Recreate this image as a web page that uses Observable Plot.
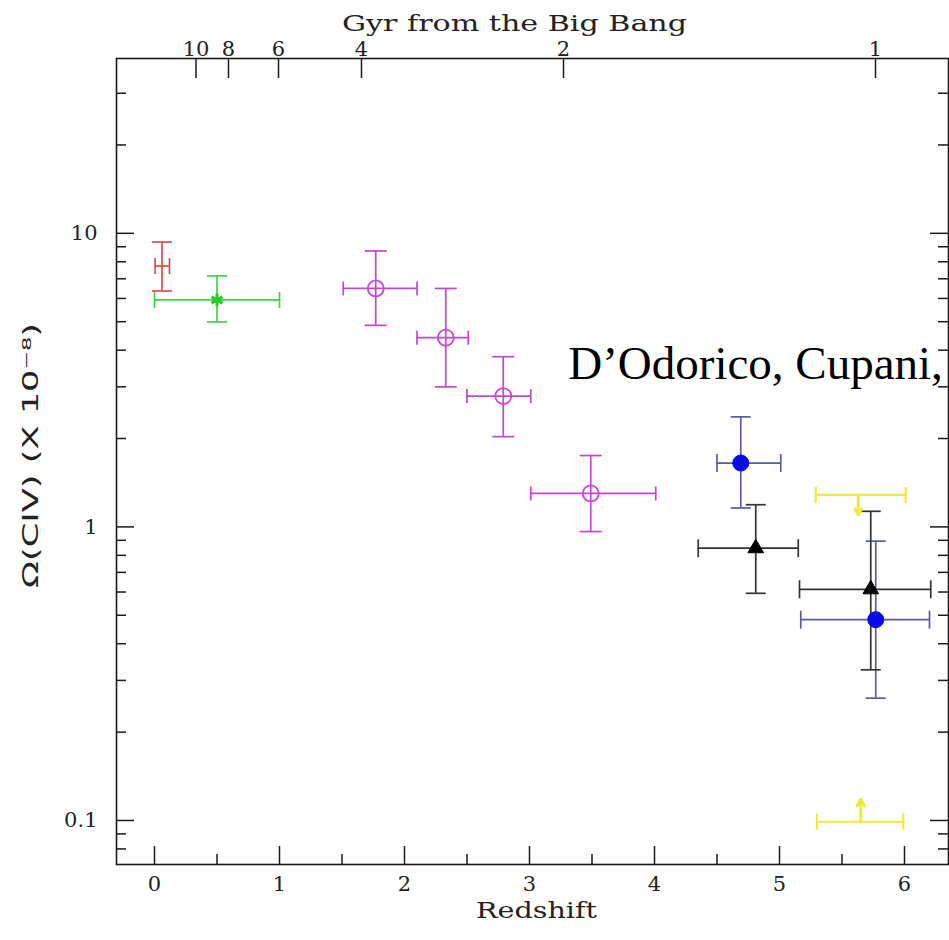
<!DOCTYPE html>
<html><head><meta charset="utf-8">
<script src="https://cdn.jsdelivr.net/npm/d3@7"></script>
<script src="https://cdn.jsdelivr.net/npm/@observablehq/plot@0.6"></script>
<style>html,body{margin:0;padding:0;background:#fff;overflow:hidden}</style>
</head><body><div id="chart"></div>
<script>
// ---------- data ----------
const pointGroup   = ["red", "green", "magenta", "magenta", "magenta", "magenta", "blue", "blue", "black", "black"];
const pointZ       = [0.06, 0.50, 1.77, 2.33, 2.79, 3.49, 4.69, 5.77, 4.81, 5.73];
const pointZLo     = [0.005, 0.00, 1.51, 2.10, 2.50, 3.01, 4.50, 5.17, 4.35, 5.16];
const pointZHi     = [0.12, 1.00, 2.10, 2.51, 3.01, 4.01, 5.01, 6.20, 5.15, 6.21];
const pointOmega   = [7.74, 5.93, 6.49, 4.41, 2.79, 1.30, 1.65, 0.483, 0.846, 0.613];
const pointOmegaLo = [6.36, 4.99, 4.86, 3.00, 2.03, 0.964, 1.16, 0.261, 0.594, 0.326];
const pointOmegaHi = [9.34, 7.16, 8.71, 6.49, 3.80, 1.75, 2.37, 0.894, 1.19, 1.13];

// yellow limits (upper limit at ~1.3, lower limit at ~0.1)
const limitZ       = [5.63, 5.65];
const limitZLo     = [5.29, 5.30];
const limitZHi     = [6.01, 5.99];
const limitOmega   = [1.285, 0.099];
const limitTip     = [1.10, 0.118];

// axes
const xMajorTicks  = [0, 1, 2, 3, 4, 5, 6];
const xMinorTicks  = [0.5, 1.5, 2.5, 3.5, 4.5, 5.5];
const gyrTickLabels = ["10", "8", "6", "4", "2", "1"];
const gyrTickZ      = [0.332, 0.592, 0.992, 1.656, 3.272, 5.768];
const yMajorTicks  = [0.1, 1, 10];
const yTickLabels  = ["0.1", "1", "10"];
const yMinorTicks  = [0.08, 0.09, 0.2, 0.3, 0.4, 0.5, 0.6, 0.7, 0.8, 0.9, 2, 3, 4, 5, 6, 7, 8, 9, 20, 30];

const titleTop   = "Gyr from the Big Bang";
const xLabel     = "Redshift";
const yLabel     = "Ω(CIV) (X 10⁻⁸)";
const annotation = "D’Odorico, Cupani,";
const annotationZ = 3.31, annotationOmega = 3.59;

// ---------- styles ----------
const W = 949, H = 940, mL = 116, mR = 1, mT = 58, mB = 76;
const innerW = W - mL - mR, innerH = H - mT - mB;
const style = {
  red:     {bar: "#d65050", capV: 10, capH: 8},
  green:   {bar: "#44d044", capV: 10, capH: 8},
  magenta: {bar: "#c048d0", capV: 11, capH: 7},
  blue:    {bar: "#5a5aa8", capV: 10, capH: 9},
  black:   {bar: "#333333", capV: 10, capH: 9}
};
const hcap = {draw(ctx, size) { const r = Math.sqrt(size / Math.PI); ctx.moveTo(-r, 0); ctx.lineTo(r, 0); }};
const vcap = {draw(ctx, size) { const r = Math.sqrt(size / Math.PI); ctx.moveTo(0, -r); ctx.lineTo(0, r); }};

const points = pointZ.map((z, i) => ({
  group: pointGroup[i], z, zlo: pointZLo[i], zhi: pointZHi[i],
  omega: pointOmega[i], lo: pointOmegaLo[i], hi: pointOmegaHi[i]
}));
const limits = limitZ.map((z, i) => ({z, zlo: limitZLo[i], zhi: limitZHi[i], omega: limitOmega[i], tip: limitTip[i]}));

const marks = [];
// axis tick marks (inward)
const axisStroke = {stroke: "#1a1a1a", strokeWidth: 1.5};
marks.push(Plot.ruleX(xMajorTicks, {x: d => d, insetTop: innerH - 18, ...axisStroke}));
marks.push(Plot.ruleX(xMinorTicks, {x: d => d, insetTop: innerH - 10, ...axisStroke}));
marks.push(Plot.ruleX(gyrTickZ, {x: d => d, insetBottom: innerH - 20, ...axisStroke}));
marks.push(Plot.ruleY(yMajorTicks, {y: d => d, insetRight: innerW - 18, ...axisStroke}));
marks.push(Plot.ruleY(yMinorTicks, {y: d => d, insetRight: innerW - 10, ...axisStroke}));
marks.push(Plot.ruleY(yMajorTicks, {y: d => d, insetLeft: innerW - 18, ...axisStroke}));
marks.push(Plot.ruleY(yMinorTicks, {y: d => d, insetLeft: innerW - 10, ...axisStroke}));
marks.push(Plot.frame({stroke: "#1a1a1a", strokeWidth: 1.6}));

// tick labels & titles
const serif = "DejaVu Serif";
marks.push(Plot.text(xMajorTicks, {x: d => d, frameAnchor: "bottom", dy: 26, text: d => String(d), fontSize: 21, fontFamily: serif, fill: "#222"}));
marks.push(Plot.text(gyrTickLabels, {x: gyrTickZ, frameAnchor: "top", dy: -17, text: d => d, fontSize: 21, fontFamily: serif, fill: "#222"}));
marks.push(Plot.text(yMajorTicks, {y: d => d, frameAnchor: "left", dx: -19, textAnchor: "end", text: yTickLabels, fontSize: 21, fontFamily: serif, fill: "#222"}));
marks.push(Plot.text([titleTop], {frameAnchor: "top", dx: -18, dy: -43, text: d => d, fontSize: 22, fontFamily: serif, fill: "#222"}));
marks.push(Plot.text([xLabel], {frameAnchor: "bottom", dx: 4, dy: 53, text: d => d, fontSize: 22, fontFamily: serif, fill: "#222"}));
marks.push(Plot.text([yLabel], {frameAnchor: "left", textAnchor: "middle", dx: -85, dy: -6, rotate: -90, text: d => d, fontSize: 21, fontFamily: "DejaVu Sans", fill: "#222"}));

// data error bars, caps and markers
for (const g of Object.keys(style)) {
  const data = points.filter(d => d.group === g);
  const s = style[g];
  marks.push(Plot.ruleX(data, {x: "z", y1: "lo", y2: "hi", stroke: s.bar, strokeWidth: 1.7}));
  marks.push(Plot.ruleY(data, {y: "omega", x1: "zlo", x2: "zhi", stroke: s.bar, strokeWidth: 1.7}));
  for (const key of ["lo", "hi"]) marks.push(Plot.dot(data, {x: "z", y: key, symbol: hcap, r: s.capV, fill: "none", stroke: s.bar, strokeWidth: 1.7}));
  for (const key of ["zlo", "zhi"]) marks.push(Plot.dot(data, {x: key, y: "omega", symbol: vcap, r: s.capH, fill: "none", stroke: s.bar, strokeWidth: 1.7}));
}
marks.push(Plot.dot(points.filter(d => d.group === "green"), {x: "z", y: "omega", symbol: "asterisk", r: 6, stroke: "#22cc22", strokeWidth: 3}));
marks.push(Plot.dot(points.filter(d => d.group === "magenta"), {x: "z", y: "omega", r: 8, fill: "none", stroke: "#d040e0", strokeWidth: 1.8}));
marks.push(Plot.dot(points.filter(d => d.group === "blue"), {x: "z", y: "omega", r: 8, fill: "#0a0ae6", stroke: "#0a0ae6", strokeWidth: 1}));
marks.push(Plot.dot(points.filter(d => d.group === "black"), {x: "z", y: "omega", symbol: "triangle", r: 5.8, fill: "#000", stroke: "#000", strokeWidth: 1}));

// yellow limits
const yellow = "#ecec3a";
marks.push(Plot.ruleY(limits, {y: "omega", x1: "zlo", x2: "zhi", stroke: yellow, strokeWidth: 2.2}));
for (const key of ["zlo", "zhi"]) marks.push(Plot.dot(limits, {x: key, y: "omega", symbol: vcap, r: 8, fill: "none", stroke: yellow, strokeWidth: 2.2}));
marks.push(Plot.arrow(limits, {x1: "z", y1: "omega", x2: "z", y2: "tip", stroke: yellow, strokeWidth: 3, headLength: 9}));

// annotation
marks.push(Plot.text([annotation], {x: [annotationZ], y: [annotationOmega], textAnchor: "start", text: d => d, fontSize: 47, fontFamily: "Liberation Serif", fill: "#000"}));

const chart = Plot.plot({
  width: W, height: H,
  marginLeft: mL, marginRight: mR, marginTop: mT, marginBottom: mB,
  x: {domain: [-0.304, 6.352], axis: null},
  y: {type: "log", domain: [0.0708, 39.4], axis: null},
  style: {background: "#fff", overflow: "hidden"},
  marks
});
const stretch = {[titleTop]: 345, [xLabel]: 121, [yLabel]: 265};
for (const t of chart.querySelectorAll("text")) {
  const s = t.textContent;
  if (stretch[s]) { t.setAttribute("textLength", stretch[s]); t.setAttribute("lengthAdjust", "spacingAndGlyphs"); }
}
document.getElementById("chart").appendChild(chart);
</script>
</body></html>
